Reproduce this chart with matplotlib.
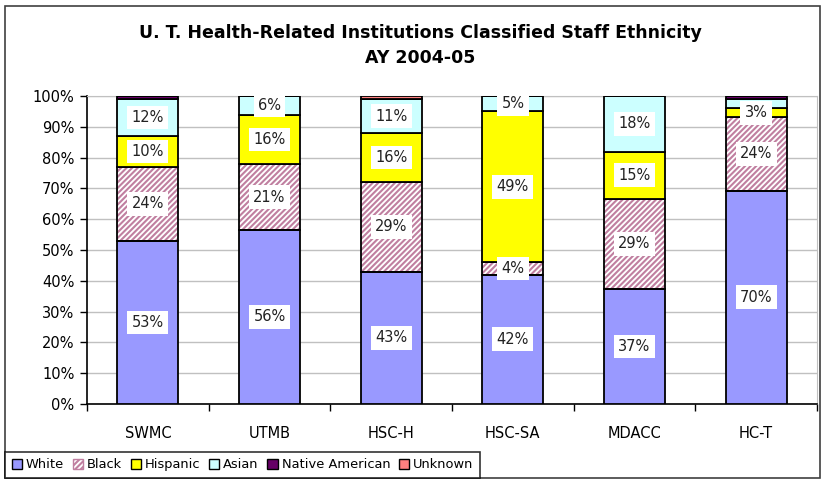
import matplotlib.pyplot as plt
from matplotlib.patches import Patch, Rectangle
import numpy as np

# ================================
#   DATOS
# ================================

categorias = ["SWMC", "UTMB", "HSC-H", "HSC-SA", "MDACC", "HC-T"]
series = ["White", "Black", "Hispanic", "Asian", "Native American", "Unknown"]

white = [53, 56, 43, 42, 37, 70]
black = [24, 21, 29, 4, 29, 24]
hispanic = [10, 16, 16, 49, 15, 3]
asian = [12, 6, 11, 5, 18, 3]
native = [1, 0, 0, 0, 0, 1]
unknown = [0, 0, 1, 0, 0, 0]

yticks = [0, 10, 20, 30, 40, 50, 60, 70, 80, 90, 100]

# etiquetas que Excel no muestra (se solapan)
ocultas = {("Asian", "HC-T")}

colores = ["#9999ff", "white", "#ffff00", "#ccffff", "#660066", "#ff8080"]
hatch_color = "#c07fa0"

# ================================
#   GRÁFICA
# ================================

plt.rcParams["font.family"] = "DejaVu Sans"
plt.rcParams["hatch.linewidth"] = 1.5

valores = np.array([white, black, hispanic, asian, native, unknown], dtype=float)
totales = valores.sum(axis=0)
pct = valores / totales * 100  # columnas apiladas al 100%

W, H = 823, 479
fig = plt.figure(figsize=(W / 100, H / 100), dpi=100)
ax = fig.add_axes([87 / W, 1 - 404 / H, (817 - 87) / W, (404 - 96) / H])

x = np.arange(len(categorias))
ancho = 0.5
base = np.zeros(len(categorias))

for i, nombre in enumerate(series):
    if nombre == "Black":
        ax.bar(x, pct[i], ancho, bottom=base, color="white", edgecolor=hatch_color,
               hatch="//////", linewidth=0, zorder=2)
        ax.bar(x, pct[i], ancho, bottom=base, color="none", edgecolor="black",
               linewidth=1.3, zorder=3)
    else:
        ax.bar(x, pct[i], ancho, bottom=base, color=colores[i], edgecolor="black",
               linewidth=1.3, zorder=3)
    if i < 4:
        for j in range(len(categorias)):
            if (nombre, categorias[j]) in ocultas or valores[i, j] == 0:
                continue
            ax.text(x[j], base[j] + pct[i, j] / 2, f"{int(valores[i, j])}%",
                    ha="center", va="center", fontsize=10.5, color="#222222", zorder=5,
                    bbox=dict(facecolor="white", edgecolor="none", boxstyle="square,pad=0.3"))
    base += pct[i]

ax.set_xlim(-0.5, len(categorias) - 0.5)
ax.set_ylim(0, 100)
ax.set_yticks(yticks)
ax.set_yticklabels([f"{v}%" for v in yticks], fontsize=10.5)
ax.yaxis.grid(True, color="#c0c0c0", linewidth=1, zorder=0)
ax.set_axisbelow(True)

ax.set_xticks(x)
ax.set_xticklabels(categorias, fontsize=10.5)
ax.set_xticks(np.arange(-0.5, len(categorias)), minor=True)
ax.tick_params(axis="x", which="major", length=0, pad=16)
ax.tick_params(axis="x", which="minor", length=5, width=1, direction="out")
ax.tick_params(axis="y", length=5, width=1, direction="out", pad=4)

for lado in ["top", "right"]:
    ax.spines[lado].set_color("#c0c0c0")
for lado in ["left", "bottom"]:
    ax.spines[lado].set_color("black")
    ax.spines[lado].set_linewidth(1.2)

fig.text(420 / W, 1 - 45.5 / H,
         "U. T. Health-Related Institutions Classified Staff Ethnicity\nAY 2004-05",
         ha="center", va="center", fontsize=12.5, fontweight="bold", linespacing=1.5)

# borde exterior del gráfico
fig.patches.append(Rectangle((5 / W, 1 - 478 / H), 815 / W, 472 / H, transform=fig.transFigure,
                             fill=False, edgecolor="#404040", linewidth=1.2))

# leyenda
manejadores = []
for i, nombre in enumerate(series):
    if nombre == "Black":
        manejadores.append(Patch(facecolor="white", edgecolor=hatch_color, hatch="//////", label=nombre))
    else:
        manejadores.append(Patch(facecolor=colores[i], edgecolor="black", label=nombre))

leg = fig.legend(handles=manejadores, loc="lower left", bbox_to_anchor=(5 / W, 1 - 478 / H),
                 ncol=6, fontsize=9.4, frameon=True, fancybox=False, handlelength=0.8,
                 handleheight=0.8, handletextpad=0.3, columnspacing=0.65, borderpad=0.5,
                 borderaxespad=0)
leg.get_frame().set_edgecolor("black")
leg.get_frame().set_linewidth(1.2)

plt.savefig("out.png", dpi=100)
